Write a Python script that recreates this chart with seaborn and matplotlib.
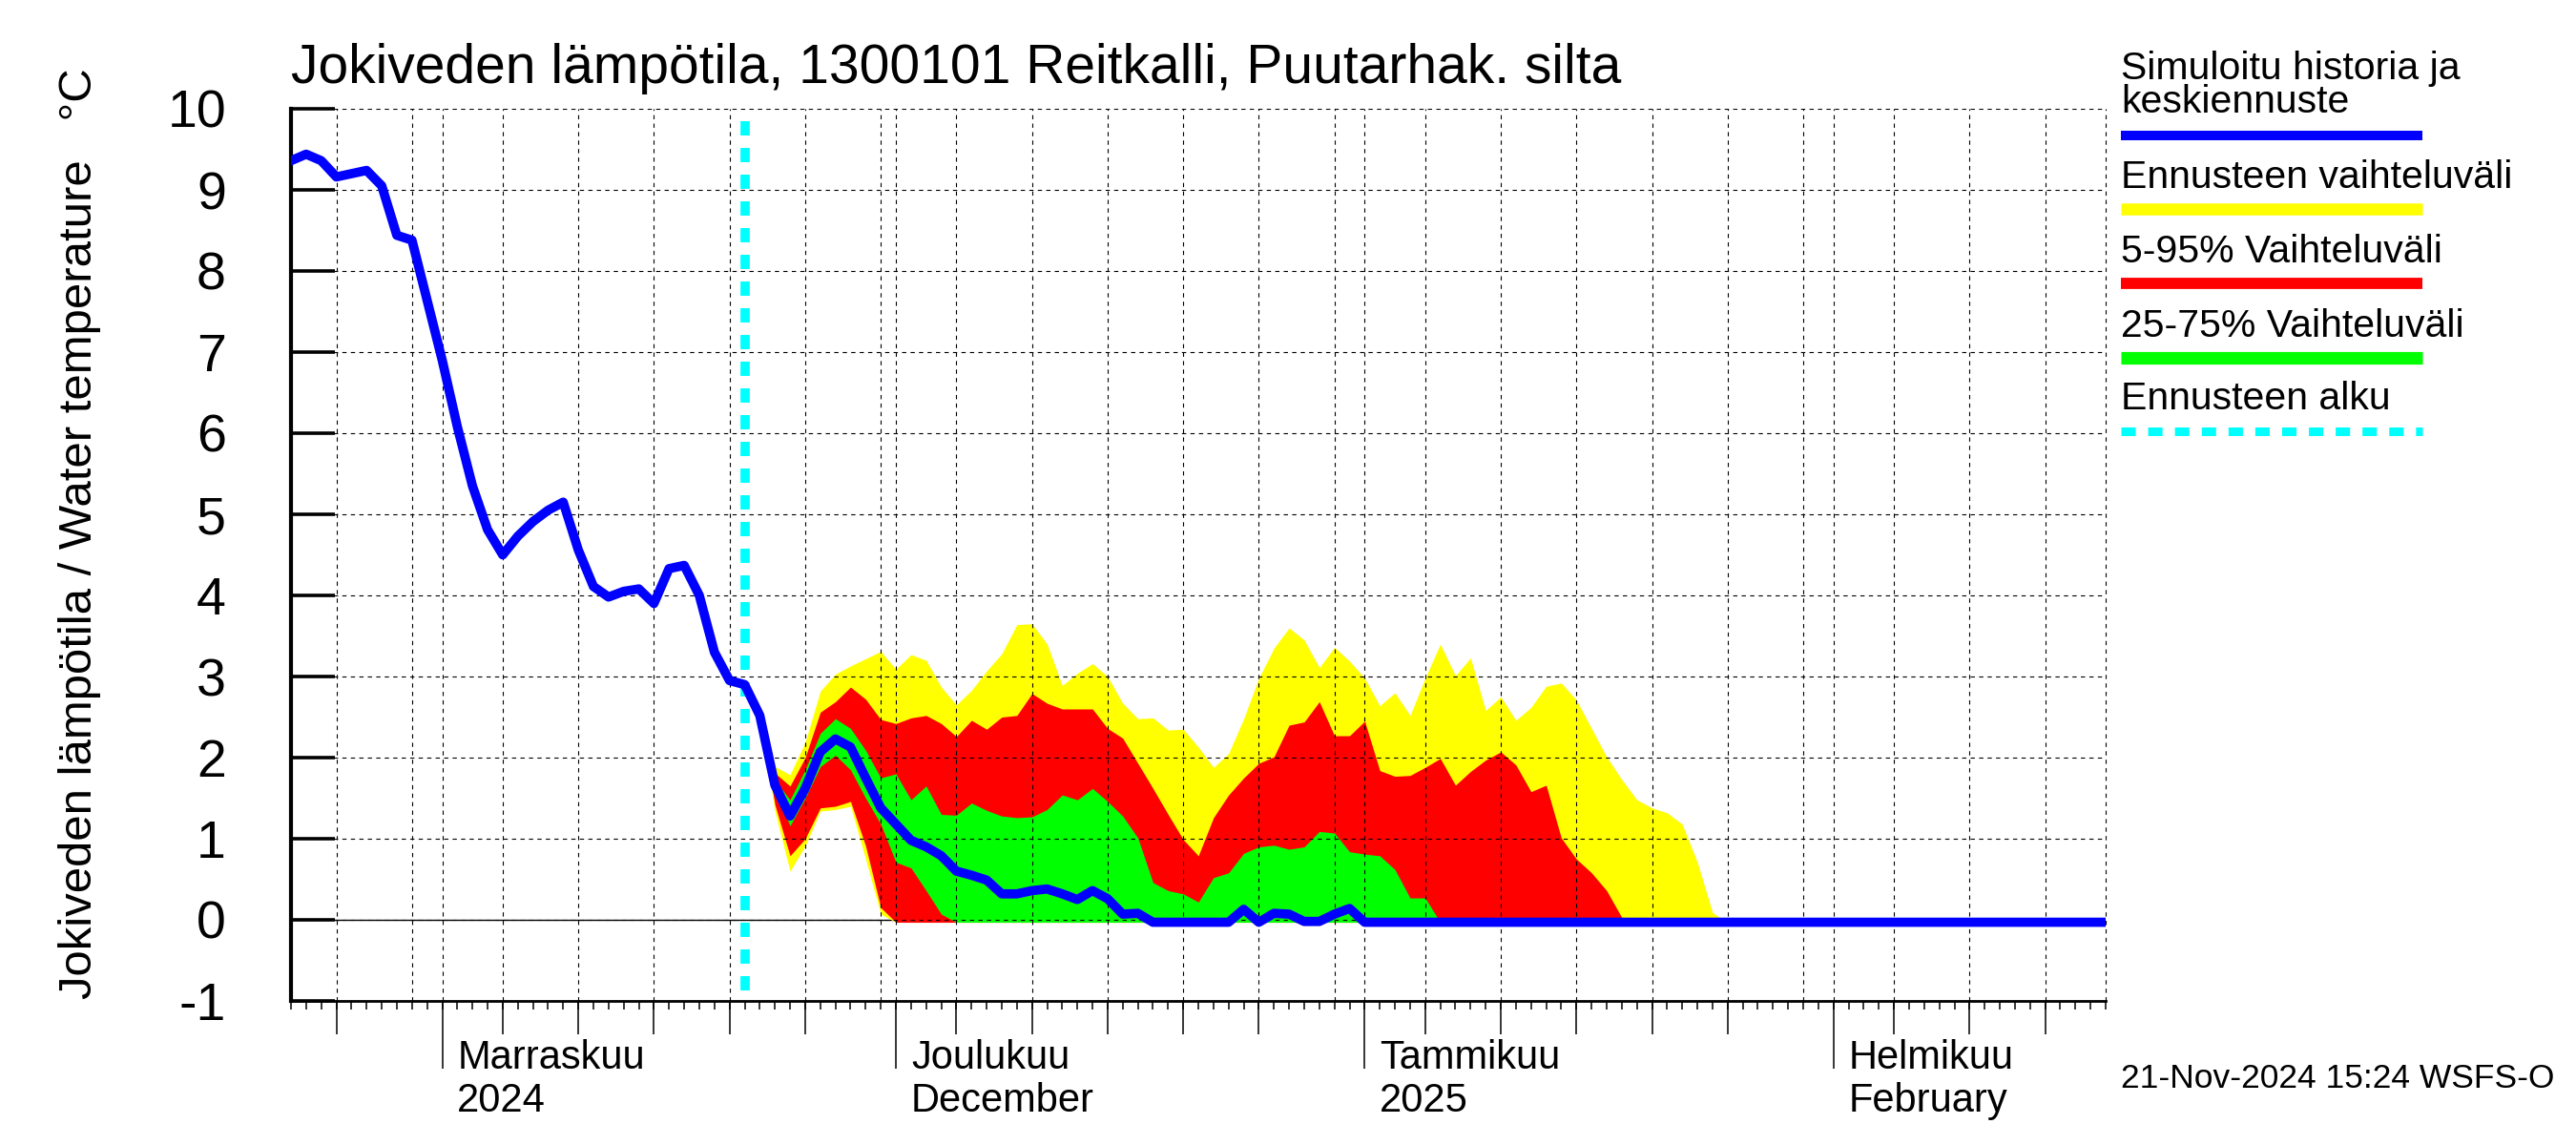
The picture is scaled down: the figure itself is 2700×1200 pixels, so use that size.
"""
plot.py – Jokiveden lämpötila, 1300101 Reitkalli: simulated history and ensemble forecast bands
"""
import matplotlib
matplotlib.use("Agg")
import matplotlib.pyplot as plt
import matplotlib.dates as mdates
from matplotlib.lines import Line2D
from matplotlib.ticker import NullFormatter
import pandas as pd
import seaborn as sns

sns.set_style("ticks", rc={
    "text.color": "black", "axes.labelcolor": "black",
    "xtick.color": "black", "ytick.color": "black", "axes.edgecolor": "black",
})
plt.rcParams["font.family"] = ["Liberation Sans", "DejaVu Sans"]
plt.rcParams["axes.unicode_minus"] = False

W, H = 2700, 1200

# ── Data ──────────────────────────────────────────────────────────────────────
first_day = "2024-10-22"
last_day = "2025-02-19"
forecast_day = "2024-11-21"

# simulated history (to 21.11.) and median forecast, one value per day
sim = [
    9.36, 9.44, 9.36, 9.16, 9.20, 9.24, 9.05, 8.44, 8.38, 7.64,
    6.90, 6.08, 5.35, 4.81, 4.50, 4.73, 4.91, 5.05, 5.15, 4.56,
    4.11, 3.98, 4.05, 4.08, 3.90, 4.33, 4.37, 4.00, 3.30, 2.95,
    2.90, 2.52, 1.66, 1.28, 1.62, 2.07, 2.23, 2.13, 1.75, 1.38,
    1.18, 0.98, 0.90, 0.79, 0.60, 0.55, 0.49, 0.32, 0.32, 0.36,
    0.38, 0.32, 0.25, 0.36, 0.26, 0.07, 0.08, -0.03, -0.03, -0.03,
    -0.03, -0.03, -0.03, 0.13, -0.03, 0.08, 0.07, -0.02, -0.02, 0.07,
    0.14, -0.03, -0.03, -0.03, -0.03, -0.03, -0.03, -0.03, -0.03, -0.03,
    -0.03, -0.03, -0.03, -0.03, -0.03, -0.03, -0.03, -0.03, -0.03, -0.03,
    -0.03, -0.03, -0.03, -0.03, -0.03, -0.03, -0.03, -0.03, -0.03, -0.03,
    -0.03, -0.03, -0.03, -0.03, -0.03, -0.03, -0.03, -0.03, -0.03, -0.03,
    -0.03, -0.03, -0.03, -0.03, -0.03, -0.03, -0.03, -0.03, -0.03, -0.03,
    -0.03,
]

# forecast bands, daily from 22.11.2024 to 19.2.2025
yellow_hi = [
    2.52, 1.89, 1.79, 2.19, 2.82, 3.03, 3.13, 3.22, 3.31, 3.09,
    3.27, 3.20, 2.87, 2.65, 2.83, 3.07, 3.28, 3.64, 3.65, 3.40,
    2.89, 3.04, 3.16, 3.00, 2.67, 2.48, 2.49, 2.34, 2.35, 2.13,
    1.88, 2.05, 2.48, 2.98, 3.35, 3.60, 3.45, 3.11, 3.36, 3.19,
    2.98, 2.64, 2.80, 2.52, 2.98, 3.40, 3.01, 3.23, 2.58, 2.75,
    2.46, 2.62, 2.88, 2.92, 2.71, 2.36, 2.01, 1.73, 1.48, 1.38,
    1.32, 1.18, 0.71, 0.09, -0.03, -0.03, -0.03, -0.03, -0.03, -0.03,
    -0.03, -0.03, -0.03, -0.03, -0.03, -0.03, -0.03, -0.03, -0.03, -0.03,
    -0.03, -0.03, -0.03, -0.03, -0.03, -0.03, -0.03, -0.03, -0.03, -0.03,
]
yellow_lo = [
    2.52, 1.34, 0.60, 0.91, 1.34, 1.36, 1.40, 0.75, 0.07, -0.03,
    -0.03, -0.03, -0.03, -0.03, -0.03, -0.03, -0.03, -0.03, -0.03, -0.03,
    -0.03, -0.03, -0.03, -0.03, -0.03, -0.03, -0.03, -0.03, -0.03, -0.03,
    -0.03, -0.03, -0.03, -0.03, -0.03, -0.03, -0.03, -0.03, -0.03, -0.03,
    -0.03, -0.03, -0.03, -0.03, -0.03, -0.03, -0.03, -0.03, -0.03, -0.03,
    -0.03, -0.03, -0.03, -0.03, -0.03, -0.03, -0.03, -0.03, -0.03, -0.03,
    -0.03, -0.03, -0.03, -0.03, -0.03, -0.03, -0.03, -0.03, -0.03, -0.03,
    -0.03, -0.03, -0.03, -0.03, -0.03, -0.03, -0.03, -0.03, -0.03, -0.03,
    -0.03, -0.03, -0.03, -0.03, -0.03, -0.03, -0.03, -0.03, -0.03, -0.03,
]
red_hi = [
    2.52, 1.81, 1.65, 2.00, 2.56, 2.69, 2.87, 2.72, 2.47, 2.42,
    2.49, 2.52, 2.42, 2.26, 2.46, 2.35, 2.50, 2.52, 2.79, 2.67,
    2.60, 2.60, 2.60, 2.36, 2.24, 1.93, 1.62, 1.30, 0.99, 0.79,
    1.26, 1.54, 1.75, 1.93, 2.01, 2.40, 2.44, 2.69, 2.27, 2.27,
    2.45, 1.84, 1.77, 1.78, 1.88, 1.99, 1.66, 1.83, 1.97, 2.07,
    1.91, 1.58, 1.66, 1.01, 0.75, 0.58, 0.36, 0.03, -0.03, -0.03,
    -0.03, -0.03, -0.03, -0.03, -0.03, -0.03, -0.03, -0.03, -0.03, -0.03,
    -0.03, -0.03, -0.03, -0.03, -0.03, -0.03, -0.03, -0.03, -0.03, -0.03,
    -0.03, -0.03, -0.03, -0.03, -0.03, -0.03, -0.03, -0.03, -0.03, -0.03,
]
red_lo = [
    2.52, 1.42, 0.79, 1.00, 1.38, 1.40, 1.46, 0.91, 0.15, -0.03,
    -0.03, -0.03, -0.03, -0.03, -0.03, -0.03, -0.03, -0.03, -0.03, -0.03,
    -0.03, -0.03, -0.03, -0.03, -0.03, -0.03, -0.03, -0.03, -0.03, -0.03,
    -0.03, -0.03, -0.03, -0.03, -0.03, -0.03, -0.03, -0.03, -0.03, -0.03,
    -0.03, -0.03, -0.03, -0.03, -0.03, -0.03, -0.03, -0.03, -0.03, -0.03,
    -0.03, -0.03, -0.03, -0.03, -0.03, -0.03, -0.03, -0.03, -0.03, -0.03,
    -0.03, -0.03, -0.03, -0.03, -0.03, -0.03, -0.03, -0.03, -0.03, -0.03,
    -0.03, -0.03, -0.03, -0.03, -0.03, -0.03, -0.03, -0.03, -0.03, -0.03,
    -0.03, -0.03, -0.03, -0.03, -0.03, -0.03, -0.03, -0.03, -0.03, -0.03,
]
green_hi = [
    2.52, 1.72, 1.48, 1.85, 2.30, 2.48, 2.36, 2.09, 1.75, 1.80,
    1.48, 1.65, 1.30, 1.29, 1.44, 1.35, 1.28, 1.26, 1.27, 1.36,
    1.54, 1.48, 1.62, 1.46, 1.28, 1.01, 0.46, 0.36, 0.32, 0.22,
    0.52, 0.58, 0.82, 0.90, 0.92, 0.87, 0.90, 1.09, 1.07, 0.84,
    0.81, 0.79, 0.62, 0.27, 0.27, -0.03, -0.03, -0.03, -0.03, -0.03,
    -0.03, -0.03, -0.03, -0.03, -0.03, -0.03, -0.03, -0.03, -0.03, -0.03,
    -0.03, -0.03, -0.03, -0.03, -0.03, -0.03, -0.03, -0.03, -0.03, -0.03,
    -0.03, -0.03, -0.03, -0.03, -0.03, -0.03, -0.03, -0.03, -0.03, -0.03,
    -0.03, -0.03, -0.03, -0.03, -0.03, -0.03, -0.03, -0.03, -0.03, -0.03,
]
green_lo = [
    2.52, 1.60, 1.16, 1.50, 1.89, 2.03, 1.85, 1.50, 1.18, 0.71,
    0.64, 0.36, 0.07, -0.03, -0.03, -0.03, -0.03, -0.03, -0.03, -0.03,
    -0.03, -0.03, -0.03, -0.03, -0.03, -0.03, -0.03, -0.03, -0.03, -0.03,
    -0.03, -0.03, -0.03, -0.03, -0.03, -0.03, -0.03, -0.03, -0.03, -0.03,
    -0.03, -0.03, -0.03, -0.03, -0.03, -0.03, -0.03, -0.03, -0.03, -0.03,
    -0.03, -0.03, -0.03, -0.03, -0.03, -0.03, -0.03, -0.03, -0.03, -0.03,
    -0.03, -0.03, -0.03, -0.03, -0.03, -0.03, -0.03, -0.03, -0.03, -0.03,
    -0.03, -0.03, -0.03, -0.03, -0.03, -0.03, -0.03, -0.03, -0.03, -0.03,
    -0.03, -0.03, -0.03, -0.03, -0.03, -0.03, -0.03, -0.03, -0.03, -0.03,
]

y_ticks = [-1, 0, 1, 2, 3, 4, 5, 6, 7, 8, 9, 10]
month_fi = ["Marraskuu", "Joulukuu", "Tammikuu", "Helmikuu"]
month_2nd = ["2024", "December", "2025", "February"]
month_starts = ["2024-11-01", "2024-12-01", "2025-01-01", "2025-02-01"]

title = "Jokiveden lämpötila, 1300101 Reitkalli, Puutarhak. silta"
ylabel = "Jokiveden lämpötila / Water temperature   °C"
stamp = "21-Nov-2024 15:24 WSFS-O"
legend_labels = [
    ["Simuloitu historia ja", "keskiennuste"],
    ["Ennusteen vaihteluväli"],
    ["5-95% Vaihteluväli"],
    ["25-75% Vaihteluväli"],
    ["Ennusteen alku"],
]
legend_colors = ["#0000FF", "#FFFF00", "#FF0000", "#00FF00", "#00FFFF"]

days = pd.date_range(first_day, last_day, freq="D")
fc_days = days[len(days) - len(yellow_hi):]
fc_start = pd.Timestamp(forecast_day)

# ── Figure ────────────────────────────────────────────────────────────────────
fig = plt.figure(figsize=(W / 100, H / 100), dpi=100)
ax = fig.add_axes([305 / W, 1 - 1049 / H, (2207 - 305) / W, (1049 - 114) / H])

ax.axhline(0, color="black", lw=1.0, zorder=0.5)
ax.fill_between(fc_days, yellow_lo, yellow_hi, color="#FFFF00", lw=0, zorder=1)
ax.fill_between(fc_days, red_lo, red_hi, color="#FF0000", lw=0, zorder=1.1)
ax.fill_between(fc_days, green_lo, green_hi, color="#00FF00", lw=0, zorder=1.2)
sns.lineplot(x=days, y=sim, ax=ax, color="#0000FF", linewidth=7, zorder=4,
             legend=False)
ax.plot([fc_start, fc_start], [9.85, -1], color="#00FFFF", lw=7,
        ls=(0, (1.54, 1.34)), solid_capstyle="butt", zorder=3)

ax.set_xlim(days[0], days[-1])
ax.set_ylim(-1, 10)
ax.set_xlabel("")
ax.set_ylabel("")

# grid: month starts and every 5th day
grid_kw = dict(color="black", lw=0.8, ls=(0, (4, 4)))
ax.set_axisbelow(False)
ax.xaxis.set_major_locator(mdates.MonthLocator())
ax.xaxis.set_minor_locator(mdates.DayLocator(bymonthday=[5, 10, 15, 20, 25, 30]))
ax.xaxis.set_major_formatter(NullFormatter())
ax.xaxis.set_minor_formatter(NullFormatter())
ax.grid(True, which="both", axis="x", **grid_kw)
ax.set_yticks(y_ticks)
ax.grid(True, which="major", axis="y", **grid_kw)
ax.axvline(days[-1], clip_on=False, **grid_kw)

ax.tick_params(axis="x", which="major", bottom=True, length=51, width=1.1,
               direction="out")
ax.tick_params(axis="x", which="minor", bottom=False, length=0)
ax.tick_params(axis="y", which="major", left=True, length=33, width=2.6,
               direction="in", labelsize=40, pad=49)
ax.tick_params(axis="y", which="minor", left=False)

# medium ticks every 5th day, short ticks every day
sec_mid = ax.secondary_xaxis("bottom")
sec_mid.xaxis.set_major_locator(mdates.DayLocator(bymonthday=[5, 10, 15, 20, 25]))
sec_mid.xaxis.set_major_formatter(NullFormatter())
sec_mid.tick_params(axis="x", which="major", bottom=True, length=25, width=1.1,
                    direction="out")
sec_mid.tick_params(axis="x", which="minor", bottom=False)
sec_mid.spines["bottom"].set_visible(False)

sec_day = ax.secondary_xaxis("bottom")
sec_day.xaxis.set_major_locator(mdates.DayLocator())
sec_day.xaxis.set_major_formatter(NullFormatter())
sec_day.tick_params(axis="x", which="major", bottom=True, length=6.5, width=1.1,
                    direction="out")
sec_day.tick_params(axis="x", which="minor", bottom=False)
sec_day.spines["bottom"].set_visible(False)

for side in ["top", "right"]:
    ax.spines[side].set_visible(False)
ax.spines["left"].set_linewidth(3)
ax.spines["bottom"].set_linewidth(2)

# month labels
xtr = ax.get_xaxis_transform()
for m, l1, l2 in zip(month_starts, month_fi, month_2nd):
    xm = mdates.date2num(pd.Timestamp(m) + pd.Timedelta(days=1))
    ax.text(xm, -0.076, l1, transform=xtr, fontsize=30, ha="left", va="baseline")
    ax.text(xm, -0.124, l2, transform=xtr, fontsize=30, ha="left", va="baseline")

# texts
fig.text(305 / W, 1 - 87 / H, title, fontsize=41, ha="left", va="baseline")
fig.text(84 / W, 1 - 1047 / H, ylabel, fontsize=35.4, rotation=90,
         ha="center", va="bottom")
fig.text(2223 / W, 1 - 1140 / H, stamp, fontsize=25.5, ha="left", va="baseline")

# legend, drawn by hand
label_base = [[83, 118], [197], [275], [353], [429]]
bar_y = [142, 219, 297, 375, 452]
bar_w = [7.2, 9.0, 8.5, 9.5, 6.5]
for labs, col, bases, yl, lw in zip(legend_labels, legend_colors, label_base,
                                    bar_y, bar_w):
    for lab, yb in zip(labs, bases):
        fig.text(2223 / W, 1 - yb / H, lab, fontsize=29.5, ha="left",
                 va="baseline")
    ls = (0, (1.67, 1.44)) if col == "#00FFFF" else "-"
    fig.add_artist(Line2D([2223 / W, 2539 / W], [1 - yl / H, 1 - yl / H],
                          transform=fig.transFigure, color=col, lw=lw, ls=ls,
                          solid_capstyle="butt", dash_capstyle="butt"))

fig.savefig("out.png", dpi=100)
